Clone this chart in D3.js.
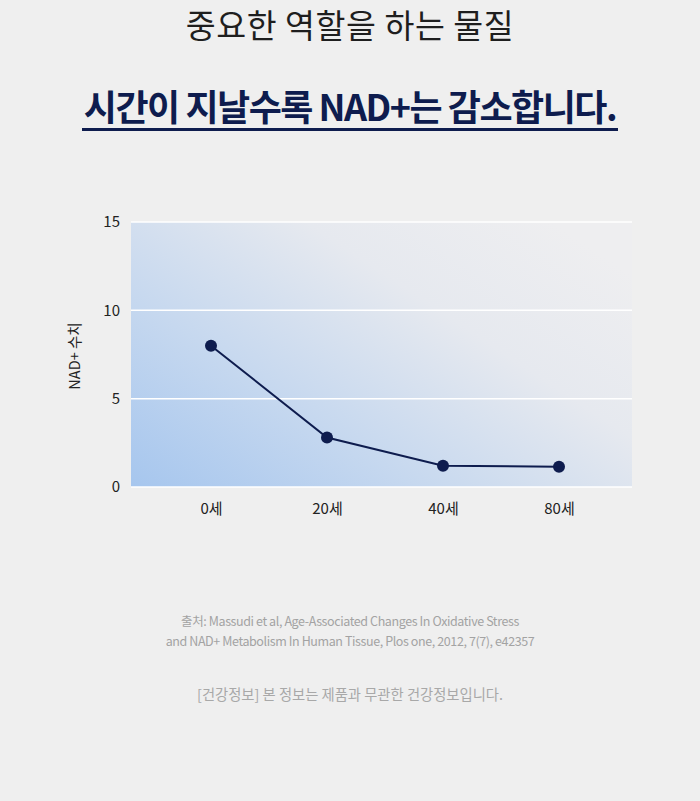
<!DOCTYPE html>
<html>
<head>
	<meta charset="utf-8">
	<script src="https://d3js.org/d3.v7.min.js"></script>
	<style>
		body { margin: 0; background: #efefef; }
		svg { display: block; font-family: "Noto Sans CJK KR", "Noto Sans", sans-serif; }
		.axis text { font-family: "Noto Sans CJK KR", sans-serif; font-size: 15px; fill: #222; }
		.note { font-size: 12.5px; fill: #a3a3a3; }
	</style>
</head>
<body>
	<script>
		// NAD+ level by age
		var ages = ["0세", "20세", "40세", "80세"];
		var nadValues = [8.0, 2.8, 1.2, 1.15];
		var yTicks = [0, 5, 10, 15];

		var width = 700;
		var height = 801;
		var plot = { left: 131, right: 632, top: 222, bottom: 487 };

		var svg = d3.select("body")
			.append("svg")
			.attr("width", width)
			.attr("height", height);

		// titles
		svg.append("text")
			.text("중요한 역할을 하는 물질")
			.attr("x", width / 2)
			.attr("y", 38)
			.attr("text-anchor", "middle")
			.style("font-size", "32.5px")
			.style("letter-spacing", "0.6px")
			.style("font-weight", 400)
			.attr("fill", "#1e1e1e");

		svg.append("text")
			.text("시간이 지날수록 NAD+는 감소합니다.")
			.attr("x", width / 2)
			.attr("y", 121)
			.attr("text-anchor", "middle")
			.style("font-size", "36px")
			.style("font-weight", 700)
			.style("letter-spacing", "-1.5px")
			.attr("fill", "#0e1c4e");

		svg.append("rect")
			.attr("x", 82)
			.attr("y", 128)
			.attr("width", 536)
			.attr("height", 3)
			.attr("fill", "#0e1c4e");

		// background gradient
		var grad = svg.append("defs").append("linearGradient")
			.attr("id", "bg")
			.attr("x1", "0").attr("y1", "1")
			.attr("x2", "1").attr("y2", "0.2");
		grad.append("stop").attr("offset", "0").attr("stop-color", "#a6c6ee");
		grad.append("stop").attr("offset", "0.35").attr("stop-color", "#c6d8ef");
		grad.append("stop").attr("offset", "0.7").attr("stop-color", "#e6e9ef");
		grad.append("stop").attr("offset", "1").attr("stop-color", "#eeeef0");

		var xScale = d3.scalePoint()
			.domain(ages)
			.range([211, 559]);
		var yScale = d3.scaleLinear()
			.domain([0, 15])
			.range([plot.bottom, plot.top]);

		svg.append("rect")
			.attr("x", plot.left)
			.attr("y", plot.top)
			.attr("width", plot.right - plot.left)
			.attr("height", plot.bottom - plot.top)
			.attr("fill", "url(#bg)");

		// gridlines
		svg.append("g")
			.selectAll("line")
			.data(yTicks)
			.enter()
			.append("line")
			.attr("x1", plot.left)
			.attr("x2", plot.right)
			.attr("y1", function(d) { return yScale(d) })
			.attr("y2", function(d) { return yScale(d) })
			.attr("stroke", "#ffffff")
			.attr("stroke-width", 1.5);

		// axes
		var yAxis = d3.axisLeft(yScale).tickValues(yTicks).tickSize(0).tickPadding(11);
		svg.append("g")
			.attr("class", "axis")
			.attr("transform", "translate(" + [plot.left, 0] + ")")
			.call(yAxis)
			.call(function(g) { g.select(".domain").remove() });

		var xAxis = d3.axisBottom(xScale).tickSize(0).tickPadding(16);
		svg.append("g")
			.attr("class", "axis")
			.attr("transform", "translate(" + [0, plot.bottom] + ")")
			.call(xAxis)
			.call(function(g) { g.select(".domain").remove() });

		svg.append("text")
			.text("NAD+ 수치")
			.attr("transform", "translate(" + [80, 356] + ") rotate(-90)")
			.attr("text-anchor", "middle")
			.style("font-size", "14.5px")
			.attr("fill", "#222");

		// line + dots
		var line = d3.line()
			.x(function(d, i) { return xScale(ages[i]) })
			.y(function(d) { return yScale(d) });

		svg.append("path")
			.datum(nadValues)
			.attr("d", line)
			.attr("fill", "none")
			.attr("stroke", "#0e1c4e")
			.attr("stroke-width", 2);

		svg.selectAll("circle")
			.data(nadValues)
			.enter()
			.append("circle")
			.attr("cx", function(d, i) { return xScale(ages[i]) })
			.attr("cy", function(d) { return yScale(d) })
			.attr("r", 6)
			.attr("fill", "#0e1c4e");

		// source notes
		var notes = [
			"출처:  Massudi et al, Age-Associated Changes In Oxidative Stress",
			"and NAD+ Metabolism In Human Tissue, Plos one, 2012, 7(7), e42357"
		];
		svg.selectAll(".note")
			.data(notes)
			.enter()
			.append("text")
			.attr("class", "note")
			.text(function(d) { return d })
			.attr("x", width / 2)
			.attr("y", function(d, i) { return 626 + i * 20 })
			.attr("text-anchor", "middle")
			.style("letter-spacing", "-0.4px");

		svg.append("text")
			.text("[건강정보] 본 정보는 제품과 무관한 건강정보입니다.")
			.attr("x", width / 2)
			.attr("y", 700)
			.attr("text-anchor", "middle")
			.style("font-size", "14.3px")
			.attr("fill", "#a8a8a8");
	</script>
</body>
</html>
